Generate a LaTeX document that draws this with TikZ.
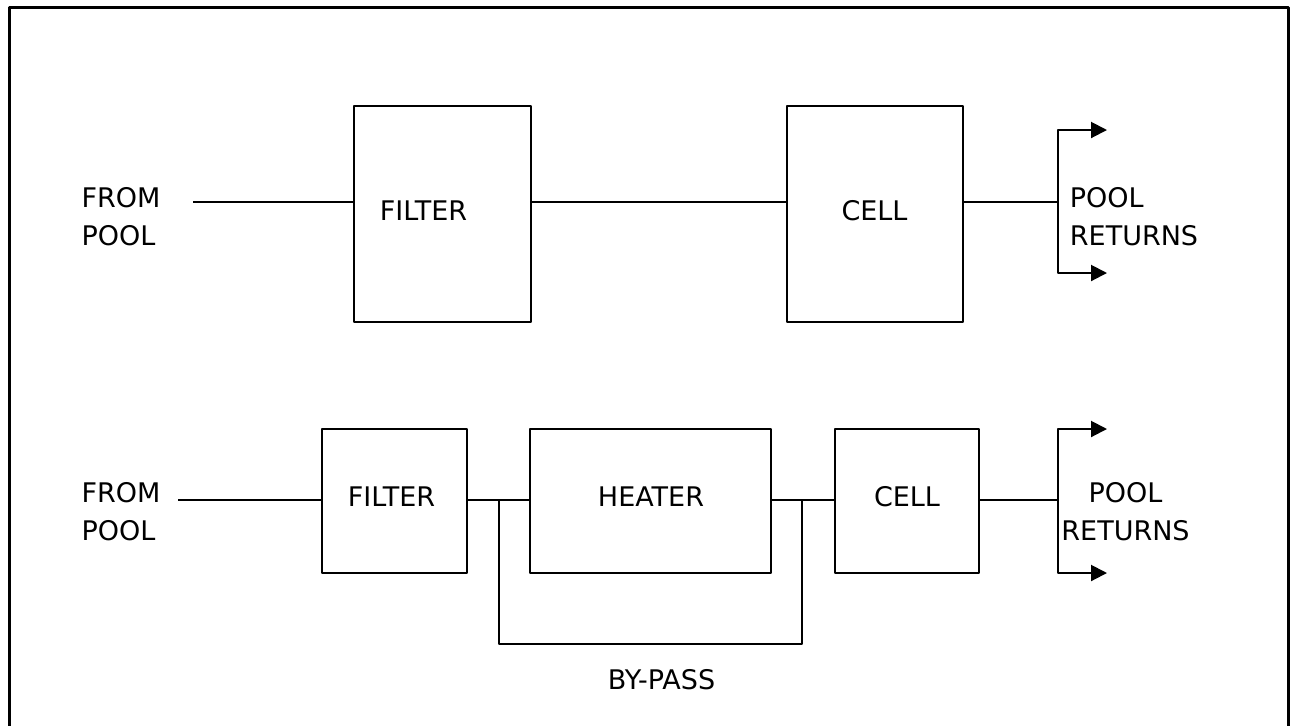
\documentclass[tikz,border=0pt]{standalone}
\usepackage{fontspec}
\setmainfont{DejaVu Sans}
\usetikzlibrary{arrows.meta}
\begin{document}
\begin{tikzpicture}[x=0.5pt, y=-0.5pt, line join=round, line width=1pt,
  font=\fontsize{13.5}{19}\selectfont, >={Triangle[length=8pt,width=8pt]},
  blk/.style={draw, line width=1pt, inner sep=0pt}]
\useasboundingbox (0,0) rectangle (1290,725);
\draw[line width=1.5pt] (9,740)--(9,7)--(1288,7)--(1288,740);
% upper line: filter and cell
\node[blk, minimum width=88.5pt, minimum height=108pt] (filterA) at (442.5,214) {};
\node (filterAtxt) at (423.5,211) {FILTER};
\node[blk, minimum width=88pt, minimum height=108pt] (cellA) at (875,214) {};
\node (cellAtxt) at (874.5,211) {CELL};
\node[align=left] (fromA) at (121,216.5) {FROM\\POOL};
\node[align=left] (retA) at (1134,216.5) {POOL\\RETURNS};
\coordinate (inA) at (193,202);
\coordinate (splitA) at (1058,202);
\coordinate (retA1) at (1107,130);
\coordinate (retA2) at (1107,273);
\draw (inA) -- (inA -| filterA.west);
\draw (inA -| filterA.east) -- (inA -| cellA.west);
\draw (inA -| cellA.east) -- (splitA);
\draw[<->] (retA1) -- (retA1 -| splitA) -- (retA2 -| splitA) -- (retA2);
% lower line: filter, heater with by-pass, cell
\node[blk, minimum width=72.5pt, minimum height=72pt] (filterB) at (394.5,501) {};
\node (filterBtxt) at (391.5,497) {FILTER};
\node[blk, minimum width=120.5pt, minimum height=72pt] (heater) at (650.5,501) {};
\node (heaterTxt) at (651,497) {HEATER};
\node[blk, minimum width=72pt, minimum height=72pt] (cellB) at (907,501) {};
\node (cellBtxt) at (907,497) {CELL};
\node[align=left] (fromB) at (121,512) {FROM\\POOL};
\node[align=center] (retB) at (1125.5,511.5) {POOL\\RETURNS};
\node (bypass) at (661.5,679.5) {BY-PASS};
\coordinate (inB) at (178,500);
\coordinate (splitB) at (1058,500);
\coordinate (bpL) at (499,500);
\coordinate (bpR) at (802,500);
\coordinate (retB1) at (1107,429);
\coordinate (retB2) at (1107,573);
\draw (inB) -- (inB -| filterB.west);
\draw (inB -| filterB.east) -- (inB -| heater.west);
\draw (inB -| heater.east) -- (inB -| cellB.west);
\draw (inB -| cellB.east) -- (splitB);
\draw (bpL) -- ++(0,144) -| (bpR);
\draw[<->] (retB1) -- (retB1 -| splitB) -- (retB2 -| splitB) -- (retB2);
\end{tikzpicture}
\end{document}
